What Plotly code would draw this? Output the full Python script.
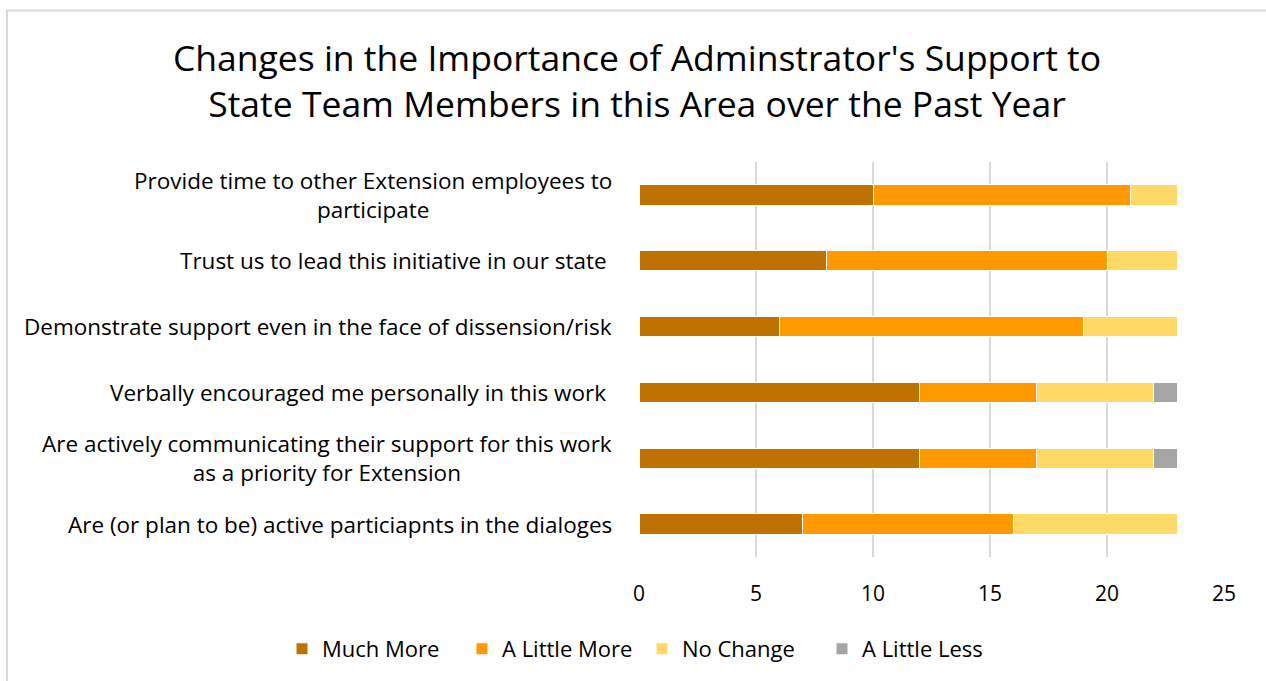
import plotly.graph_objects as go

categories = [
    "Provide time to other Extension employees to<br>participate",
    "Trust us to lead this initiative in our state ",
    "Demonstrate support even in the face of dissension/risk",
    "Verbally encouraged me personally in this work ",
    "Are actively communicating their support for this work<br>as a priority for Extension",
    "Are (or plan to be) active particiapnts in the dialoges",
]
series_names = ["Much More", "A Little More", "No Change", "A Little Less"]
much_more = [10, 8, 6, 12, 12, 7]
a_little_more = [11, 12, 13, 5, 5, 9]
no_change = [2, 3, 4, 5, 5, 7]
a_little_less = [0, 0, 0, 1, 1, 0]
colors = ["#BF7200", "#FF9900", "#FFD966", "#A5A5A5"]
x_ticks = [0, 5, 10, 15, 20, 25]
title_text = "Changes in the Importance of Adminstrator's Support to<br>State Team Members in this Area over the Past Year"

FONT = "Open Sans"
W, H = 1266, 681
ml, mr, mt, mb = 639, 42, 162, 123
pw, ph = W - ml - mr, H - mt - mb

ids = list(range(len(categories)))
fig = go.Figure()
for name, vals, col in zip(series_names, [much_more, a_little_more, no_change, a_little_less], colors):
    fig.add_trace(go.Bar(
        y=ids, x=vals, name=name, orientation="h",
        marker=dict(color=col, line=dict(color="white", width=1)),
    ))

annotations = []
for i, c in enumerate(categories):
    txt = c.rstrip(" ") + ("&nbsp;" if c.endswith(" ") else "")
    annotations.append(dict(
        x=-25 / pw, xref="paper", y=i, yref="y", text=txt, showarrow=False,
        xanchor="right", yanchor="middle", align="center",
        font=dict(family=FONT, size=22.5, color="#000000"),
    ))

fig.update_layout(
    width=W, height=H,
    margin=dict(l=ml, r=mr, t=mt, b=mb),
    paper_bgcolor="white", plot_bgcolor="white",
    barmode="stack", bargap=0.69,
    title=dict(text=title_text, x=637 / W, xanchor="center", y=1 - 71 / H, yanchor="middle",
               yref="container", font=dict(family=FONT, size=35.5, color="#000000")),
    font=dict(family=FONT, color="#000000"),
    xaxis=dict(range=[0, 25], tickvals=x_ticks, showgrid=True, gridcolor="#D9D9D9", gridwidth=2,
               zeroline=False, showline=False, ticks="", ticklabelstandoff=22,
               tickfont=dict(family=FONT, size=21, color="#000000")),
    yaxis=dict(range=[len(categories) - 0.5, -0.5], showticklabels=False, showgrid=False,
               zeroline=False, showline=False),
    legend=dict(orientation="h", x=(282 - ml) / pw, xanchor="left", y=(H - mb - 649) / ph, yanchor="middle",
                xref="paper", yref="paper", traceorder="normal", entrywidth=135,
                font=dict(family=FONT, size=22, color="#000000"), itemwidth=30),
    annotations=annotations,
    shapes=[dict(type="rect", xref="paper", yref="paper",
                 x0=(7 - ml) / pw, x1=(W + 10 - ml) / pw,
                 y0=(H - mb - (H + 10)) / ph, y1=(H - mb - 10) / ph,
                 line=dict(color="#D9D9D9", width=2), fillcolor="rgba(0,0,0,0)", layer="below")],
    showlegend=True,
)
fig.write_html("out.html")
